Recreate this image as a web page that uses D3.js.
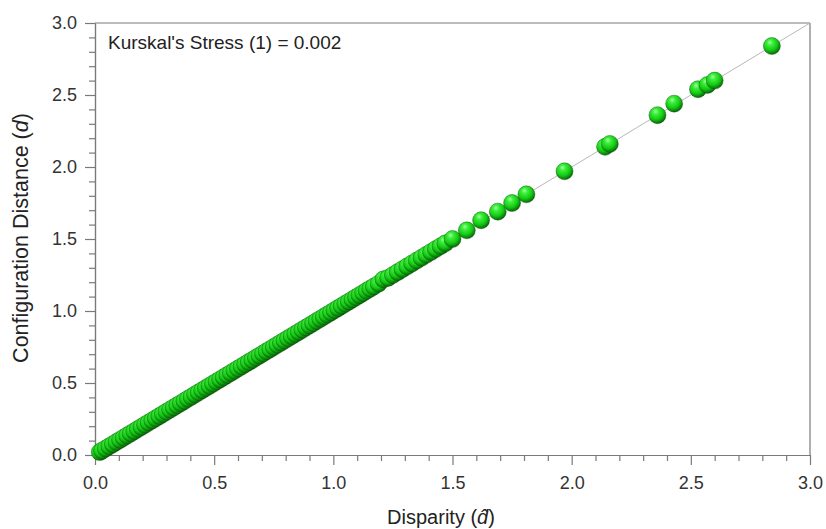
<!DOCTYPE html>
<html>
<head>
<meta charset="utf-8">
<script src="https://cdn.jsdelivr.net/npm/d3@7"></script>
<style>
  html, body { margin: 0; padding: 0; background: #fff; }
  svg { display: block; font-family: "Liberation Sans", Arial, sans-serif; }
</style>
</head>
<body>
<svg id="chart" width="826" height="529"></svg>
<script>
// ---- data ----
const disparity = [
  0.02, 0.03, 0.045, 0.06, 0.075, 0.09, 0.105, 0.12, 0.135, 0.15,
  0.165, 0.18, 0.195, 0.21, 0.225, 0.24, 0.255, 0.27, 0.285, 0.30,
  0.315, 0.33, 0.345, 0.36, 0.375, 0.39, 0.405, 0.42, 0.435, 0.45,
  0.465, 0.48, 0.495, 0.51, 0.525, 0.54, 0.555, 0.57, 0.585, 0.60,
  0.615, 0.63, 0.645, 0.66, 0.675, 0.69, 0.705, 0.72, 0.735, 0.75,
  0.765, 0.78, 0.795, 0.81, 0.825, 0.84, 0.855, 0.87, 0.885, 0.90,
  0.915, 0.93, 0.945, 0.96, 0.975, 0.99, 1.005, 1.02, 1.035, 1.05,
  1.065, 1.08, 1.095, 1.11, 1.125, 1.14, 1.155, 1.17, 1.19, 1.21,
  1.23, 1.25, 1.27, 1.29, 1.31, 1.33, 1.35, 1.37, 1.39, 1.41,
  1.43, 1.45, 1.47, 1.50, 1.56, 1.62, 1.69, 1.75, 1.81, 1.97,
  2.14, 2.16, 2.36, 2.43, 2.53, 2.57, 2.60, 2.84
];
const distance = [
  0.02, 0.03, 0.045, 0.06, 0.075, 0.09, 0.105, 0.12, 0.135, 0.15,
  0.165, 0.18, 0.195, 0.21, 0.225, 0.24, 0.255, 0.27, 0.285, 0.30,
  0.315, 0.33, 0.345, 0.36, 0.375, 0.39, 0.405, 0.42, 0.435, 0.45,
  0.465, 0.48, 0.495, 0.51, 0.525, 0.54, 0.555, 0.57, 0.585, 0.60,
  0.615, 0.63, 0.645, 0.66, 0.675, 0.69, 0.705, 0.72, 0.735, 0.75,
  0.765, 0.78, 0.795, 0.81, 0.825, 0.84, 0.855, 0.87, 0.885, 0.90,
  0.915, 0.93, 0.945, 0.96, 0.975, 0.99, 1.005, 1.02, 1.035, 1.05,
  1.065, 1.08, 1.095, 1.11, 1.125, 1.14, 1.155, 1.17, 1.19, 1.22,
  1.23, 1.25, 1.27, 1.29, 1.31, 1.33, 1.35, 1.37, 1.39, 1.41,
  1.43, 1.45, 1.47, 1.50, 1.56, 1.63, 1.69, 1.75, 1.81, 1.97,
  2.14, 2.16, 2.36, 2.44, 2.54, 2.57, 2.60, 2.84
];
const majorTicks = [0, 0.5, 1.0, 1.5, 2.0, 2.5, 3.0];
const minorTicks = [0.1,0.2,0.3,0.4,0.6,0.7,0.8,0.9,1.1,1.2,1.3,1.4,1.6,1.7,1.8,1.9,2.1,2.2,2.3,2.4,2.6,2.7,2.8,2.9];
const annotation = "Kurskal's Stress (1) = 0.002";

// ---- layout ----
const svg = d3.select("#chart");
const mLeft = 95, mRight = 810, mTop = 23, mBottom = 455;
const x = d3.scaleLinear().domain([0, 3]).range([mLeft, mRight]);
const y = d3.scaleLinear().domain([0, 3]).range([mBottom, mTop]);
const axisColor = "#7a7a7a";
const textColor = "#333";

// gradient for spheres
const defs = svg.append("defs");
const grad = defs.append("radialGradient").attr("id", "ball")
  .attr("cx", "42%").attr("cy", "36%").attr("r", "66%").attr("fx", "38%").attr("fy", "27%");
grad.append("stop").attr("offset", "0%").attr("stop-color", "#a8ffa8");
grad.append("stop").attr("offset", "25%").attr("stop-color", "#3cf03c");
grad.append("stop").attr("offset", "65%").attr("stop-color", "#14c814");
grad.append("stop").attr("offset", "100%").attr("stop-color", "#056005");

// frame (top & right)
svg.append("line").attr("x1", mLeft).attr("x2", mRight).attr("y1", mTop).attr("y2", mTop)
  .attr("stroke", axisColor).attr("stroke-width", 1.2);
svg.append("line").attr("x1", mRight).attr("x2", mRight).attr("y1", mTop).attr("y2", mBottom)
  .attr("stroke", axisColor).attr("stroke-width", 1.2);

// diagonal reference line
svg.append("line")
  .attr("x1", x(0)).attr("y1", y(0)).attr("x2", x(3)).attr("y2", y(3))
  .attr("stroke", "#b8b8b8").attr("stroke-width", 1);

// axes
function styleAxis(g) {
  g.selectAll(".domain").attr("stroke", axisColor).attr("stroke-width", 1.2);
  g.selectAll(".tick line").attr("stroke", axisColor).attr("stroke-width", 1.2);
  g.selectAll("text").attr("fill", textColor).style("font-size", "18px")
    .style("font-family", "'Liberation Sans', Arial, sans-serif");
}
const xMinor = svg.append("g").attr("transform", `translate(0,${mBottom})`)
  .call(d3.axisBottom(x).tickValues(minorTicks).tickSize(6).tickFormat("").tickSizeOuter(0));
styleAxis(xMinor);
const xAxis = svg.append("g").attr("transform", `translate(0,${mBottom})`)
  .call(d3.axisBottom(x).tickValues(majorTicks).tickSize(10).tickPadding(11).tickFormat(d3.format(".1f")).tickSizeOuter(0));
styleAxis(xAxis);

const yMinor = svg.append("g").attr("transform", `translate(${mLeft},0)`)
  .call(d3.axisLeft(y).tickValues(minorTicks).tickSize(6).tickFormat("").tickSizeOuter(0));
styleAxis(yMinor);
const yAxis = svg.append("g").attr("transform", `translate(${mLeft},0)`)
  .call(d3.axisLeft(y).tickValues(majorTicks).tickSize(10).tickPadding(8).tickFormat(d3.format(".1f")).tickSizeOuter(0));
styleAxis(yAxis);

// points
const pts = disparity.map((d, i) => ({ x: d, y: distance[i] }));
svg.append("g").selectAll("circle").data(pts).join("circle")
  .attr("cx", d => x(d.x)).attr("cy", d => y(d.y)).attr("r", 8.5)
  .attr("fill", "url(#ball)")
  .attr("stroke", "#0a4a0a").attr("stroke-opacity", 0.5).attr("stroke-width", 0.8);

// annotation
svg.append("text").attr("x", 108).attr("y", 49)
  .attr("fill", "#222").style("font-size", "19px").text(annotation);

// axis titles
const xt = svg.append("text").attr("x", 441).attr("y", 524)
  .attr("text-anchor", "middle").attr("fill", "#222").style("font-size", "20px");
xt.append("tspan").text("Disparity (");
xt.append("tspan").style("font-style", "italic").text("d\u0302");
xt.append("tspan").text(")");

const yt = svg.append("text")
  .attr("transform", `translate(28,238) rotate(-90)`)
  .attr("text-anchor", "middle").attr("fill", "#222").style("font-size", "21.5px");
yt.append("tspan").text("Configuration Distance (");
yt.append("tspan").style("font-style", "italic").text("d");
yt.append("tspan").text(")");
</script>
</body>
</html>
